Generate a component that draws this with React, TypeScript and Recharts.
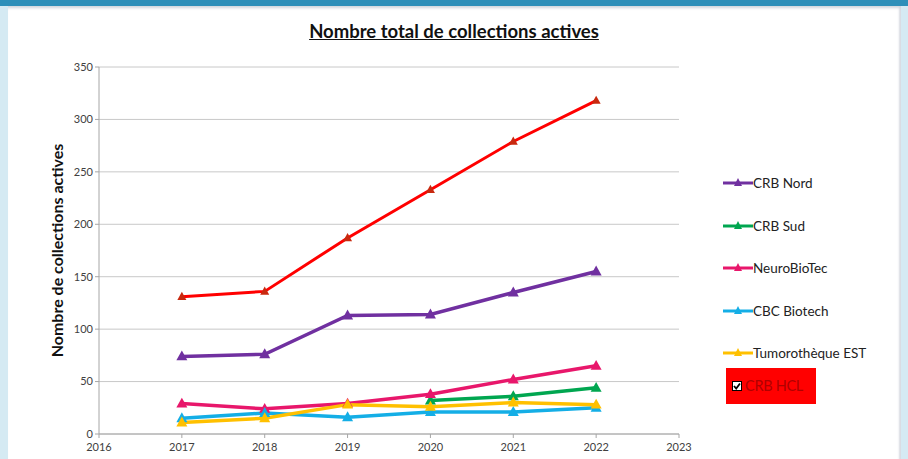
import React from 'react'
import { LineChart, Line, XAxis, YAxis, CartesianGrid, Label } from 'recharts'

const years = [2017, 2018, 2019, 2020, 2021, 2022]
const crbNord = [74, 76, 113, 114, 135, 155]
const crbSud = [null, null, null, 32, 36, 44]
const neuroBioTec = [29, 24, 29, 38, 52, 65]
const cbcBiotech = [15, 20, 16, 21, 21, 25]
const tumorotheque = [11, 15, 28, 26, 30, 28]
const crbHcl = [131, 136, 187, 233, 279, 318]

const xTicks = [2016, 2017, 2018, 2019, 2020, 2021, 2022, 2023]
const yTicks = [0, 50, 100, 150, 200, 250, 300, 350]

const series = [
    { key: 'nord', name: 'CRB Nord', values: crbNord, color: '#7030a0' },
    { key: 'sud', name: 'CRB Sud', values: crbSud, color: '#00a650' },
    { key: 'neuro', name: 'NeuroBioTec', values: neuroBioTec, color: '#e8176b' },
    { key: 'cbc', name: 'CBC Biotech', values: cbcBiotech, color: '#14aee6' },
    { key: 'tumo', name: 'Tumorothèque EST', values: tumorotheque, color: '#ffc000' },
    { key: 'hcl', name: 'CRB HCL', values: crbHcl, color: '#ff0000' },
]

const data = years.map((year, i) => {
    const row: any = { year }
    series.forEach(s => { row[s.key] = s.values[i] })
    return row
})

const FONT = 'Lato, "Open Sans", sans-serif'

const Triangle = ({ cx, cy, fill, size = 10 }: any) => {
    if (cx == null || cy == null) return null
    const h = size * 0.9
    return (
        <path
            d={`M${cx},${cy - h * 0.6} L${cx + size / 2},${cy + h * 0.4} L${cx - size / 2},${cy + h * 0.4} Z`}
            fill={fill}
        />
    )
}

// legend drawn beside the chart, like the original (CRB HCL shown as a red checkbox box)
const CustomLegend = () => (
    <div style={{ position: 'absolute', left: 723, top: 162, width: 180, fontFamily: FONT, fontSize: 13.5, color: '#222' }}>
        {series.filter(s => s.key !== 'hcl').map(s => (
            <div key={s.key} style={{ height: 42.5, display: 'flex', alignItems: 'center' }}>
                <svg width={30} height={12}>
                    <line x1={0} y1={6} x2={30} y2={6} stroke={s.color} strokeWidth={3} />
                    <path d="M15,1 L19,9 L11,9 Z" fill={s.color} />
                </svg>
                <span>{s.name}</span>
            </div>
        ))}
        <div style={{
            marginTop: -7, marginLeft: 3, width: 90, height: 36, background: '#ff0000',
            display: 'flex', alignItems: 'center', boxSizing: 'border-box', paddingLeft: 6,
        }}>
            <svg width={10} height={10} style={{ marginRight: 3 }}>
                <rect x={0.5} y={0.5} width={9} height={9} fill="#fff" stroke="#000" />
                <path d="M2,5 L4.2,7.5 L8,2.5" fill="none" stroke="#000" strokeWidth={1.8} />
            </svg>
            <span style={{ color: '#b00000', fontSize: 14.5, letterSpacing: -0.3 }}>CRB HCL</span>
        </div>
    </div>
)

export default function App() {
    return (
        <div style={{ position: 'fixed', left: 0, top: 0, width: 908, height: 459, background: '#d5eaf3', overflow: 'hidden' }}>
            <div style={{ position: 'absolute', left: 0, top: 0, width: 908, height: 6, background: '#2e8fb9' }} />
            <div style={{
                position: 'absolute', left: 8, top: 6, width: 893, height: 460, background: '#ffffff',
                boxShadow: 'inset 0 4px 3px -2px #d0d4dc, inset -3px 0 2px -1px #d8dbe2',
            }} />
            <div style={{
                position: 'absolute', left: 0, top: 20, width: 908, textAlign: 'center',
                fontFamily: FONT, fontWeight: 700, fontSize: 18.5, textDecoration: 'underline', color: '#111',
            }}>
                Nombre total de collections actives
            </div>
            <div style={{ position: 'absolute', left: 0, top: 0 }}>
                <LineChart
                    width={908}
                    height={459}
                    data={data}
                    margin={{ top: 67, right: 229, bottom: 0, left: 29 }}
                >
                    <CartesianGrid vertical={false} stroke="#c8c8c8" strokeWidth={1} />
                    <XAxis
                        dataKey="year"
                        type="number"
                        domain={[2016, 2023]}
                        ticks={xTicks}
                        height={25}
                        stroke="#a6a6a6"
                        tickSize={4}
                        tickMargin={5}
                        tick={{ fill: '#404040', fontSize: 11, fontFamily: FONT }}
                    />
                    <YAxis
                        domain={[0, 350]}
                        ticks={yTicks}
                        width={70}
                        stroke="#a6a6a6"
                        tickSize={4}
                        tick={{ fill: '#404040', fontSize: 11, fontFamily: FONT }}
                    >
                        <Label
                            value="Nombre de collections actives"
                            angle={-90}
                            position="insideLeft"
                            offset={28}
                            style={{ fontFamily: FONT, fontWeight: 700, fontSize: 16, fill: '#111', textAnchor: 'middle' }}
                        />
                    </YAxis>
                    {series.map(s => (
                        <Line
                            key={s.key}
                            dataKey={s.key}
                            name={s.name}
                            stroke={s.color}
                            strokeWidth={s.key === 'hcl' ? 3 : 3.5}
                            isAnimationActive={false}
                            connectNulls={false}
                            dot={(props: any) => (
                                <Triangle
                                    key={`${s.key}-${props.index}`}
                                    cx={props.cx}
                                    cy={props.cy}
                                    fill={s.key === 'hcl' ? '#c8290f' : s.color}
                                    size={s.key === 'hcl' ? 9 : 11}
                                />
                            )}
                            activeDot={false}
                        />
                    ))}
                </LineChart>
            </div>
            <CustomLegend />
        </div>
    )
}
